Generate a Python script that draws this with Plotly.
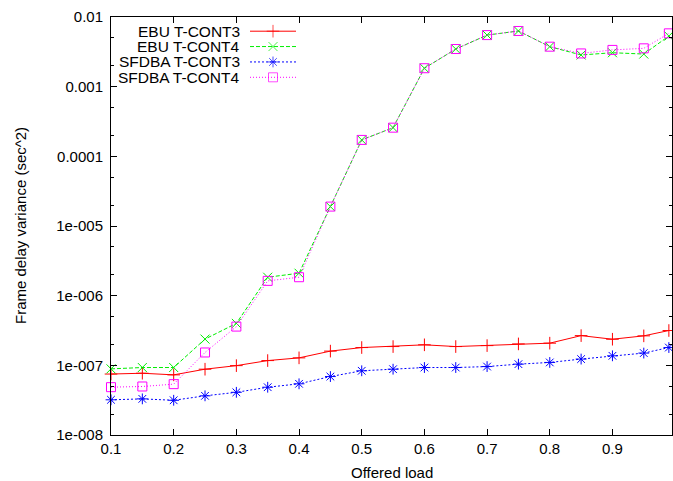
import plotly.graph_objects as go

# Offered load points
load = [0.1, 0.15, 0.2, 0.25, 0.3, 0.35, 0.4, 0.45, 0.5, 0.55,
        0.6, 0.65, 0.7, 0.75, 0.8, 0.85, 0.9, 0.95, 0.99]

# Frame delay variance (sec^2) per scheme / T-CONT
ebu_tcont3 = [7.5e-8, 7.7e-8, 7.3e-8, 8.8e-8, 9.9e-8, 1.17e-7, 1.28e-7, 1.6e-7, 1.8e-7, 1.86e-7,
              1.97e-7, 1.86e-7, 1.92e-7, 2.03e-7, 2.08e-7, 2.67e-7, 2.37e-7, 2.65e-7, 3.16e-7]
ebu_tcont4 = [8.9e-8, 9.3e-8, 9.3e-8, 2.38e-7, 4.0e-7, 1.84e-6, 2.1e-6, 1.9e-5, 1.72e-4, 2.58e-4,
              1.84e-3, 3.47e-3, 5.5e-3, 6.3e-3, 3.75e-3, 2.85e-3, 3.07e-3, 2.94e-3, 5.33e-3]
sfdba_tcont3 = [3.2e-8, 3.3e-8, 3.15e-8, 3.65e-8, 4.1e-8, 4.85e-8, 5.43e-8, 6.9e-8, 8.35e-8, 8.8e-8,
                9.3e-8, 9.3e-8, 9.6e-8, 1.04e-7, 1.1e-7, 1.23e-7, 1.37e-7, 1.5e-7, 1.8e-7]
sfdba_tcont4 = [4.86e-8, 4.97e-8, 5.37e-8, 1.53e-7, 3.6e-7, 1.63e-6, 1.84e-6, 1.9e-5, 1.72e-4, 2.58e-4,
                1.84e-3, 3.47e-3, 5.5e-3, 6.3e-3, 3.75e-3, 3.0e-3, 3.37e-3, 3.55e-3, 5.83e-3]

series_names = ["EBU T-CONT3", "EBU T-CONT4", "SFDBA T-CONT3", "SFDBA T-CONT4"]

y_tickvals = [1e-8, 1e-7, 1e-6, 1e-5, 1e-4, 1e-3, 1e-2]
y_ticktext = ["1e-008", "1e-007", "1e-006", "1e-005", "0.0001", "0.001", "0.01"]
x_tickvals = [0.1, 0.2, 0.3, 0.4, 0.5, 0.6, 0.7, 0.8, 0.9]
x_ticktext = ["0.1", "0.2", "0.3", "0.4", "0.5", "0.6", "0.7", "0.8", "0.9"]

FONT = "Liberation Sans, Arial, sans-serif"
W, H = 673, 481
L, R, T, B = 111, 1, 17, 46
PW, PH = W - L - R, H - T - B

styles = [
    dict(color="#ff0000", dash="solid", symbol="cross-thin-open"),
    dict(color="#00ee00", dash="4px,2px", symbol="x-thin-open"),
    dict(color="#0000ff", dash="2px,2px", symbol="asterisk-open"),
    dict(color="#ff00ff", dash="1px,2px", symbol="square-open"),
]
data = [ebu_tcont3, ebu_tcont4, sfdba_tcont3, sfdba_tcont4]

fig = go.Figure()
for name, ys, st in zip(series_names, data, styles):
    fig.add_trace(go.Scatter(
        x=load, y=ys, name=name, mode="lines+markers",
        line=dict(color=st["color"], width=1, dash=st["dash"]),
        marker=dict(symbol=st["symbol"], size=9, color=st["color"],
                    line=dict(color=st["color"], width=1)),
        showlegend=False, cliponaxis=False,
    ))

# Key samples drawn on a small hidden axis pair at the top-left
for i, (name, st) in enumerate(zip(series_names, styles)):
    row = 3 - i
    fig.add_trace(go.Scatter(
        x=[0, 1, 2], y=[row, row, row], mode="lines+markers", xaxis="x2", yaxis="y2",
        line=dict(color=st["color"], width=1, dash=st["dash"]),
        marker=dict(symbol=st["symbol"], size=[0, 9, 0], color=st["color"],
                    line=dict(color=st["color"], width=1)),
        showlegend=False, hoverinfo="skip",
    ))
    fig.add_annotation(
        x=(242 - L) / PW, xref="paper", y=row, yref="y2", text=name, showarrow=False,
        xanchor="right", yanchor="middle", font=dict(family=FONT, size=15.5, color="#000000"),
    )

# Axis titles
fig.add_annotation(x=0.5, xref="paper", y=-(472 - (H - B)) / PH, yref="paper",
                   text="Offered load", showarrow=False, xanchor="center", yanchor="middle",
                   font=dict(family=FONT, size=15, color="#000000"))
fig.add_annotation(x=-(L - 20) / PW, xref="paper", y=1 - (226 - T) / PH, yref="paper",
                   text="Frame delay variance (sec^2)", showarrow=False, textangle=-90,
                   xanchor="center", yanchor="middle",
                   font=dict(family=FONT, size=15, color="#000000"))

fig.update_layout(
    width=W, height=H,
    margin=dict(l=L, r=R, t=T, b=B),
    paper_bgcolor="#ffffff", plot_bgcolor="#ffffff",
    font=dict(family=FONT, size=15, color="#000000"),
    showlegend=False,
    xaxis=dict(
        range=[0.1, 0.995], tickvals=x_tickvals, ticktext=x_ticktext,
        ticks="inside", ticklen=6, tickcolor="#000000", tickwidth=1,
        showline=True, linecolor="#000000", linewidth=1, mirror="allticks",
        showgrid=False, zeroline=False, automargin=False,
    ),
    yaxis=dict(
        type="log", range=[-8, -2], tickvals=y_tickvals, ticktext=y_ticktext,
        ticks="inside", ticklen=6, tickcolor="#000000", tickwidth=1,
        showline=True, linecolor="#000000", linewidth=1, mirror="allticks",
        showgrid=False, zeroline=False, automargin=False, ticklabelstandoff=4,
        minor=dict(ticks="inside", ticklen=3, tickcolor="#000000", dtick="D2", showgrid=False),
    ),
    xaxis2=dict(domain=[(250 - L) / PW, (296 - L) / PW], range=[0, 2],
                visible=False, anchor="y2", fixedrange=True),
    yaxis2=dict(domain=[1 - (85.0 - T) / PH, 1 - (23.5 - T) / PH], range=[-0.5, 3.5],
                visible=False, anchor="x2", fixedrange=True),
)

fig.write_html("out.html")
